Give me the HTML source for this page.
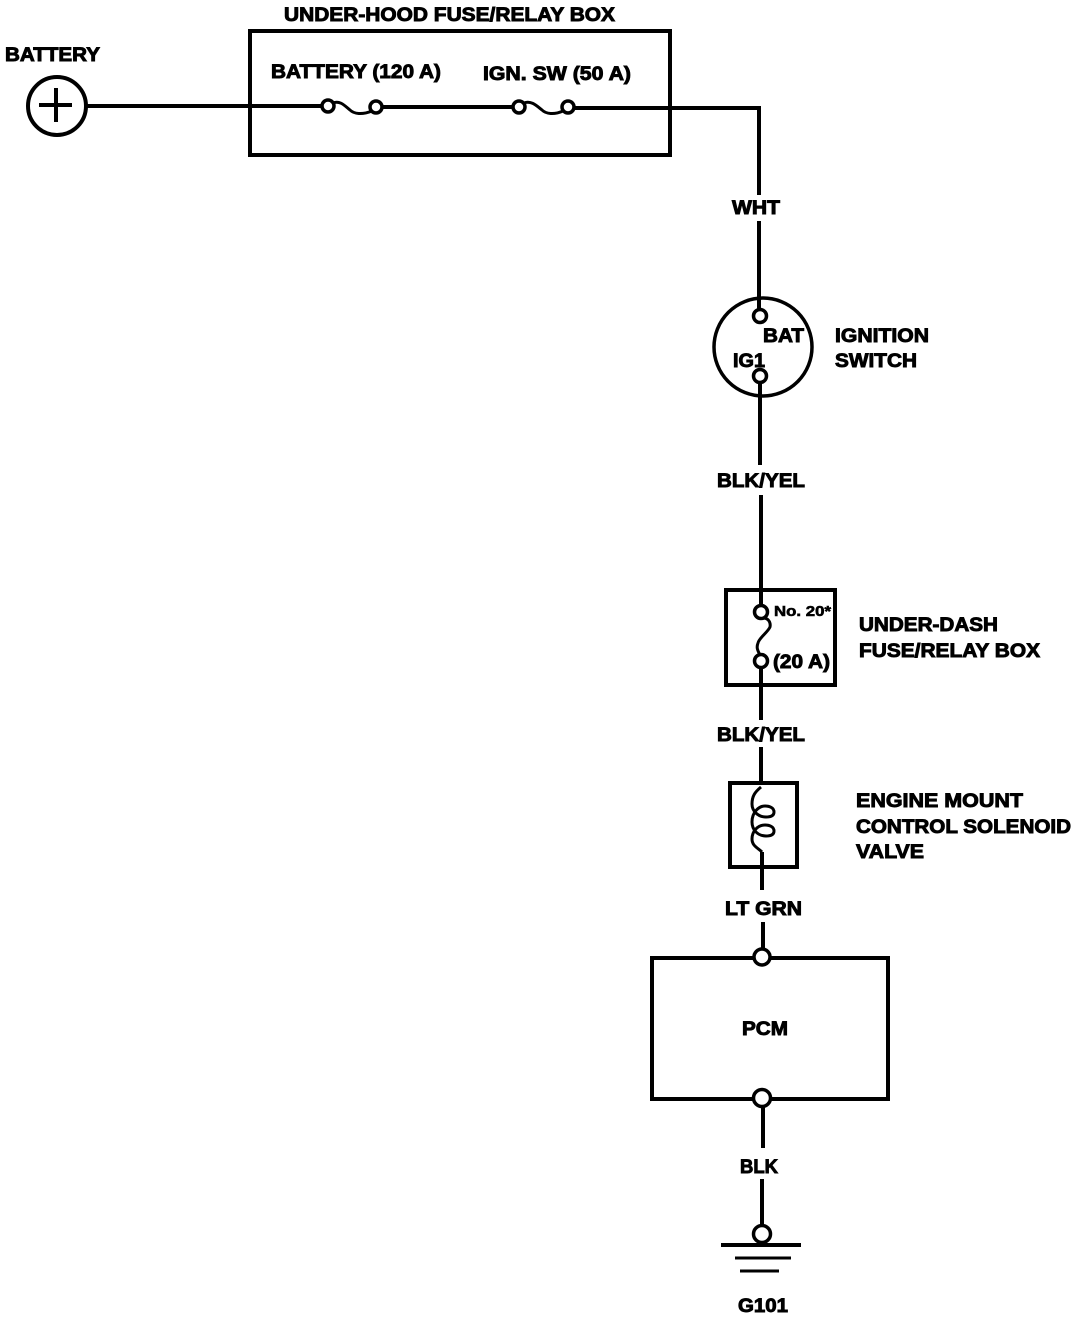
<!DOCTYPE html>
<html><head><meta charset="utf-8"><style>
html,body{margin:0;padding:0;background:#fff}
svg{display:block}
text{font-family:"Liberation Sans",sans-serif;font-weight:bold;font-size:19px;fill:#000;stroke:#000;stroke-width:.9px}
.w{fill:none;stroke:#000;stroke-width:4}
.t{fill:none;stroke:#000;stroke-width:3}
.c{fill:#fff;stroke:#000;stroke-width:3.5}
</style></head><body>
<svg width="1088" height="1320" viewBox="0 0 1088 1320" xmlns="http://www.w3.org/2000/svg">
<!-- boxes -->
<rect x="250" y="31" width="420" height="124" class="w"/>
<rect x="726" y="590" width="109" height="95" class="w"/>
<rect x="730" y="783" width="67" height="84" class="w"/>
<rect x="652" y="958" width="236" height="141" class="w"/>
<!-- battery -->
<circle cx="57" cy="106" r="29" class="w"/>
<path d="M39 105H72M56 88V122" class="w"/>
<path d="M86 106H322" class="w"/>
<path d="M333 103C340 100 345 106 350 110C354 114 362 115 372 111" class="t"/>
<path d="M382 107H514" class="w"/>
<path d="M524 103C531 100 537 106 542 110C546 114 554 115 563 111" class="t"/>
<path d="M574 108H759V195M759 221V310" class="w"/>
<circle cx="328" cy="106" r="6" class="c"/><circle cx="376" cy="107" r="6" class="c"/>
<circle cx="519" cy="107" r="6" class="c"/><circle cx="568" cy="107" r="6" class="c"/>
<!-- ignition -->
<circle cx="763" cy="347" r="49" class="t" style="stroke-width:3.5"/>
<path d="M760 383V465M761 495V605" class="w"/>
<circle cx="760" cy="316" r="6.5" class="c"/><circle cx="760" cy="376" r="6.5" class="c"/>
<!-- under dash fuse -->
<path d="M763 618C768 618 771 622 770 627C768 632 759 638 758 643C756 648 758 651 760 655" class="t"/>
<path d="M761 667V720M761 747V785" class="w"/>
<circle cx="761" cy="612" r="6.5" class="c"/><circle cx="761" cy="661" r="6.5" class="c"/>
<!-- coil -->
<path d="M761 787C755 792 752 796 752 804C752 811 758 817 766 817C772 817 774 815 774 812C774 808 770 806 765 806C759 806 752 812 752 822C752 830 758 836 766 836C772 836 774 834 774 831C774 827 770 825 765 825C758 825 752 831 752 839C752 846 758 848 762 852" class="t"/>
<path d="M762 852V890M763 922V950" class="w"/>
<!-- pcm -->
<circle cx="762" cy="957" r="8" class="c"/><circle cx="762" cy="1098" r="8.5" class="c"/>
<path d="M763 1107V1148M762 1179V1228" class="w"/>
<circle cx="762" cy="1234" r="8.5" class="c"/>
<path d="M721 1245H801" class="w"/>
<path d="M735 1258H791M740 1271H779" class="t"/>
<!-- labels -->
<text x="284" y="21" textLength="331" lengthAdjust="spacingAndGlyphs">UNDER-HOOD FUSE/RELAY BOX</text>
<text x="5" y="61" textLength="95" lengthAdjust="spacingAndGlyphs">BATTERY</text>
<text x="271" y="78" textLength="170" lengthAdjust="spacingAndGlyphs">BATTERY (120 A)</text>
<text x="483" y="80" textLength="148" lengthAdjust="spacingAndGlyphs">IGN. SW (50 A)</text>
<text x="732" y="214" textLength="48" lengthAdjust="spacingAndGlyphs">WHT</text>
<text x="763" y="342" textLength="41" lengthAdjust="spacingAndGlyphs">BAT</text>
<text x="733" y="367" textLength="32" lengthAdjust="spacingAndGlyphs">IG1</text>
<text x="835" y="342" textLength="94" lengthAdjust="spacingAndGlyphs">IGNITION</text>
<text x="835" y="367" textLength="82" lengthAdjust="spacingAndGlyphs">SWITCH</text>
<text x="717" y="487" textLength="88" lengthAdjust="spacingAndGlyphs">BLK/YEL</text>
<text x="774" y="616" textLength="57" lengthAdjust="spacingAndGlyphs" style="font-size:15px;stroke-width:.6px">No. 20*</text>
<text x="773" y="668" textLength="57" lengthAdjust="spacingAndGlyphs">(20 A)</text>
<text x="859" y="631" textLength="139" lengthAdjust="spacingAndGlyphs">UNDER-DASH</text>
<text x="859" y="657" textLength="181" lengthAdjust="spacingAndGlyphs">FUSE/RELAY BOX</text>
<text x="717" y="741" textLength="88" lengthAdjust="spacingAndGlyphs">BLK/YEL</text>
<text x="856" y="807" textLength="167" lengthAdjust="spacingAndGlyphs">ENGINE MOUNT</text>
<text x="856" y="833" textLength="215" lengthAdjust="spacingAndGlyphs">CONTROL SOLENOID</text>
<text x="856" y="858" textLength="68" lengthAdjust="spacingAndGlyphs">VALVE</text>
<text x="725" y="915" textLength="77" lengthAdjust="spacingAndGlyphs">LT GRN</text>
<text x="742" y="1035" textLength="46" lengthAdjust="spacingAndGlyphs">PCM</text>
<text x="740" y="1173" textLength="38" lengthAdjust="spacingAndGlyphs">BLK</text>
<text x="738" y="1312" textLength="50" lengthAdjust="spacingAndGlyphs">G101</text>
</svg>
</body></html>
